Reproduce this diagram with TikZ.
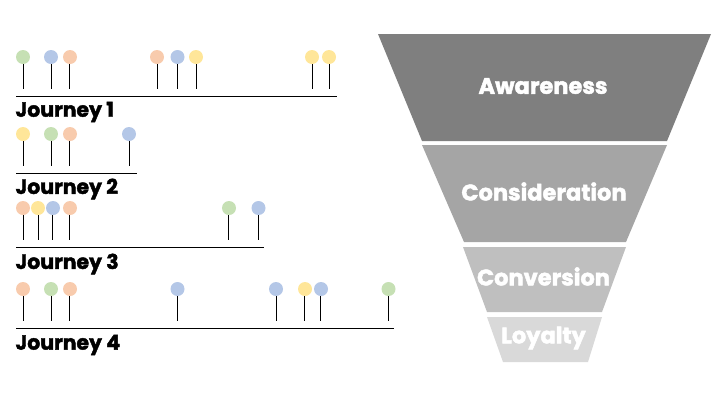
\documentclass[tikz,border=0pt]{standalone}
\usepackage{fontspec}
\setmainfont{Poppins}[BoldFont={Poppins Bold},BoldFeatures={FakeBold=2}]
\definecolor{pgreen}{HTML}{C6E0B4}
\definecolor{pblue}{HTML}{B4C7E7}
\definecolor{porange}{HTML}{F8CBAD}
\definecolor{pyellow}{HTML}{FFE699}
\definecolor{fa}{HTML}{7F7F7F}
\definecolor{fb}{HTML}{A5A5A5}
\definecolor{fc}{HTML}{BFBFBF}
\definecolor{fd}{HTML}{D9D9D9}
\tikzset{
  pin/.style={circle,fill=#1,draw=none,minimum size=14pt,inner sep=0pt},
  stem/.style={draw=black,line width=1pt},
  axis line/.style={draw=black,line width=1pt},
  jlabel/.style={anchor=west,inner sep=0pt,font=\bfseries\fontsize{20.4}{24}\selectfont,text=black},
  flabel/.style={inner sep=0pt,text=white,font=\bfseries\fontsize{#1}{26}\selectfont},
}
\begin{document}
\begin{tikzpicture}[x=1pt,y=-1pt]
\useasboundingbox (0,0) rectangle (720,405);
% pins: name/circle x/stem x/colour
\foreach \n/\x/\s/\c in {a1/23/23.3/pgreen,a2/51/51.3/pblue,a3/70/69.3/porange,a4/157/157.3/porange,a5/177.5/177.3/pblue,a6/196/196.3/pyellow,a7/312/312.3/pyellow,a8/329/329.3/pyellow}{
  \node[pin=\c] (\n) at (\x,57) {};
  \coordinate (\n e) at (\s,89);
  \draw[stem] (\n.south -| \n e) -- (\n e);
}
\foreach \n/\x/\s/\c in {b1/23/23.3/pyellow,b2/51/51.3/pgreen,b3/70/69.3/porange,b4/129/129.3/pblue}{
  \node[pin=\c] (\n) at (\x,134) {};
  \coordinate (\n e) at (\s,166);
  \draw[stem] (\n.south -| \n e) -- (\n e);
}
\foreach \n/\x/\s/\c in {c1/23/23.3/porange,c2/38/38.3/pyellow,c3/53/52.3/pblue,c4/70/69.3/porange,c5/229/228.3/pgreen,c6/258.5/258.3/pblue}{
  \node[pin=\c] (\n) at (\x,208) {};
  \coordinate (\n e) at (\s,240);
  \draw[stem] (\n.south -| \n e) -- (\n e);
}
\foreach \n/\x/\s/\c in {d1/23/23.3/porange,d2/51/51.3/pgreen,d3/70/69.3/porange,d4/177.5/177.3/pblue,d5/276/276.3/pblue,d6/305/304.3/pyellow,d7/321/320.3/pblue,d8/388.5/388.3/pgreen}{
  \node[pin=\c] (\n) at (\x,289) {};
  \coordinate (\n e) at (\s,321);
  \draw[stem] (\n.south -| \n e) -- (\n e);
}
% axes
\coordinate (l1) at (16,96.5); \coordinate (r1) at (337,96.5);
\coordinate (l2) at (16,173.5); \coordinate (r2) at (137,173.5);
\coordinate (l3) at (16,247.5); \coordinate (r3) at (264,247.5);
\coordinate (l4) at (16,328.5); \coordinate (r4) at (394,328.5);
\draw[axis line] (l1) -- (r1);
\draw[axis line] (l2) -- (r2);
\draw[axis line] (l3) -- (r3);
\draw[axis line] (l4) -- (r4);
\node[jlabel] (j1) at (15.3,112) {Journey 1};
\node[jlabel] (j2) at (15.3,189) {Journey 2};
\node[jlabel] (j3) at (15.3,264) {Journey 3};
\node[jlabel] (j4) at (15.3,345) {Journey 4};
% funnel
\fill[fa] (378,34) -- (711,34) -- (667,141) -- (422,141) -- cycle;
\fill[fb] (422,145) -- (667,145) -- (626,242) -- (464,242) -- cycle;
\fill[fc] (463,247) -- (626,247) -- (602,312) -- (487,312) -- cycle;
\fill[fd] (487,317) -- (602,317) -- (588,362) -- (503,362) -- cycle;
\node[flabel=22.5] (f1) at (543,86) {Awareness};
\node[flabel=22.5] (f2) at (544,191.5) {Consideration};
\node[flabel=22.5] (f3) at (543.5,276.5) {Conversion};
\node[flabel=22.5] (f4) at (543.5,338) {Loyalty};
\end{tikzpicture}
\end{document}
